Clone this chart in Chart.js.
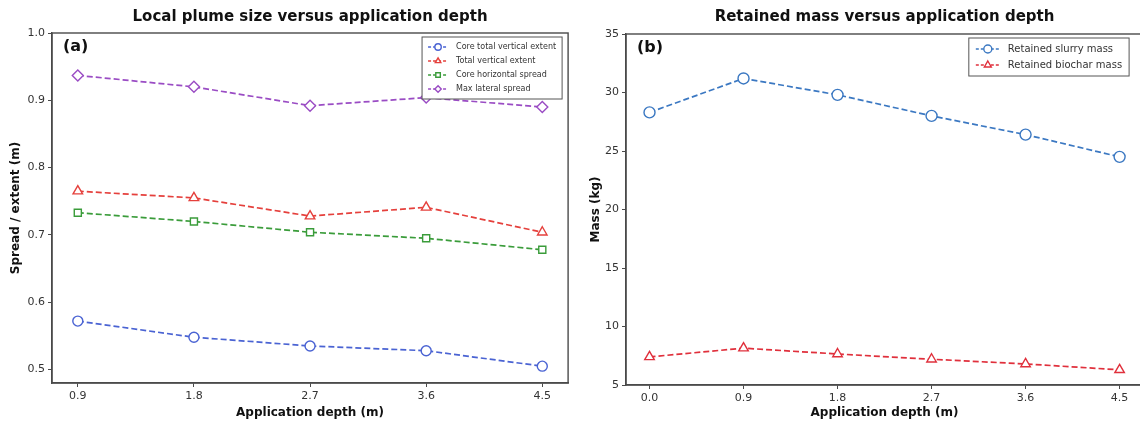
<!DOCTYPE html>
<html>
<head>
<meta charset="utf-8">
<script src="https://cdn.jsdelivr.net/npm/chart.js@4/dist/chart.umd.min.js"></script>
<style>
html,body{margin:0;padding:0;background:#fff;overflow:hidden;width:1140px;height:424px;}
#wrapA{position:absolute;left:0;top:0;width:575px;height:424px;}
#wrapB{position:absolute;left:575px;top:0;width:575px;height:424px;}
</style>
</head>
<body>
<div id="wrapA"><canvas id="cA" width="575" height="424"></canvas></div>
<div id="wrapB"><canvas id="cB" width="575" height="424"></canvas></div>
<script>
// ---- data ----
const depthA = [0.9, 1.8, 2.7, 3.6, 4.5];
const coreVertical = [0.572, 0.548, 0.535, 0.528, 0.505];
const totalVertical = [0.765, 0.755, 0.728, 0.741, 0.704];
const coreHorizontal = [0.733, 0.720, 0.704, 0.695, 0.678];
const maxLateral = [0.937, 0.920, 0.892, 0.904, 0.890];
const yTicksA = [0.5, 0.6, 0.7, 0.8, 0.9, 1.0];

const depthB = [0.0, 0.9, 1.8, 2.7, 3.6, 4.5];
const slurryMass = [28.3, 31.2, 29.8, 28.0, 26.4, 24.5];
const biocharMass = [7.4, 8.15, 7.65, 7.2, 6.8, 6.3];
const yTicksB = [5, 10, 15, 20, 25, 30, 35];

const FONT = "'DejaVu Sans', sans-serif";
const AXIS = '#4a4a4a';
const TXT = '#333';

function pts(xs, ys){ return xs.map((x,i)=>({x:x, y:ys[i]})); }
function ds(label, xs, ys, color, style, r){
  return {label, data: pts(xs, ys), borderColor: color, backgroundColor: '#fff',
    borderWidth: 1.7, borderDash: [6,3], pointStyle: style, pointRadius: r,
    pointBorderWidth: 1.4, pointBackgroundColor: '#fff', pointBorderColor: color,
    showLine: true, tension: 0, fill: false};
}

const framePlugin = {
  id: 'frame',
  afterDraw(chart, args, o){
    const {ctx, chartArea: a} = chart;
    ctx.save();
    ctx.strokeStyle = AXIS; ctx.lineWidth = 1.4;
    ctx.strokeRect(a.left, a.top, a.right - a.left, a.bottom - a.top);
    // title
    ctx.fillStyle = '#111';
    ctx.font = 'bold ' + o.titleSize + 'px ' + FONT;
    ctx.textAlign = 'center'; ctx.textBaseline = 'middle';
    ctx.fillText(o.title, (a.left + a.right)/2 + (o.titleDx||0), o.titleY);
    // panel label
    ctx.font = 'bold 16px ' + FONT;
    ctx.textAlign = 'left';
    ctx.fillText(o.panel, a.left + 11, a.top + 14);
    // legend
    const L = o.legend;
    ctx.font = L.size + 'px ' + FONT;
    let maxW = 0;
    chart.data.datasets.forEach(d => { maxW = Math.max(maxW, ctx.measureText(d.label).width); });
    const bw = L.pad + L.sample + L.gap + maxW + L.pad;
    const bh = L.rowH * chart.data.datasets.length + L.padY*2;
    const bx = a.right - L.inset - bw, by = a.top + L.top;
    ctx.fillStyle = '#fff';
    ctx.fillRect(bx, by, bw, bh);
    ctx.strokeStyle = '#555'; ctx.lineWidth = 1;
    ctx.strokeRect(bx, by, bw, bh);
    chart.data.datasets.forEach((d, i) => {
      const cy = by + L.padY + L.rowH*i + L.rowH/2;
      const x0 = bx + L.pad, x1 = x0 + L.sample;
      ctx.strokeStyle = d.borderColor; ctx.lineWidth = 1.4;
      ctx.setLineDash([3,2]);
      ctx.beginPath(); ctx.moveTo(x0, cy); ctx.lineTo(x1, cy); ctx.stroke();
      ctx.setLineDash([]);
      ctx.fillStyle = '#fff';
      Chart.helpers.drawPoint(ctx, {pointStyle: d.pointStyle, rotation: 0, radius: L.r, borderWidth: 1.2}, (x0+x1)/2, cy);
      ctx.fillStyle = TXT;
      ctx.textAlign = 'left'; ctx.textBaseline = 'middle';
      ctx.fillText(d.label, x1 + L.gap, cy);
    });
    ctx.restore();
  }
};

function scales(cfg){
  return {
    x: {type: 'linear', min: cfg.xmin, max: cfg.xmax,
      afterBuildTicks: s => { s.ticks = cfg.xt.map(v => ({value: v})); },
      afterFit: s => { s.height = cfg.xh; },
      grid: {drawOnChartArea: false, drawTicks: true, tickLength: 4, color: AXIS, lineWidth: 1},
      border: {display: true, color: AXIS, width: 1.4},
      ticks: {color: TXT, font: {family: FONT, size: 11}, padding: 3, maxRotation: 0,
        callback: v => Number(v).toFixed(1)},
      title: {display: true, text: 'Application depth (m)', color: '#111',
        font: {family: FONT, size: 12, weight: 'bold'}, padding: {top: 2, bottom: 4}}
    },
    y: {type: 'linear', min: cfg.ymin, max: cfg.ymax,
      afterBuildTicks: s => { s.ticks = cfg.yt.map(v => ({value: v})); },
      afterFit: s => { s.width = cfg.yw; },
      grid: {drawOnChartArea: false, drawTicks: true, tickLength: 4, color: AXIS, lineWidth: 1},
      border: {display: true, color: AXIS, width: 1.4},
      ticks: {color: TXT, font: {family: FONT, size: 11}, padding: 3,
        callback: cfg.yfmt},
      title: {display: true, text: cfg.ytitle, color: '#111',
        font: {family: FONT, size: 12, weight: 'bold'}, padding: {top: cfg.ytp, bottom: 0}}
    }
  };
}

new Chart(document.getElementById('cA'), {
  type: 'scatter',
  data: {datasets: [
    ds('Core total vertical extent', depthA, coreVertical, '#4a63d3', 'circle', 5),
    ds('Total vertical extent', depthA, totalVertical, '#e5403c', 'triangle', 5.5),
    ds('Core horizontal spread', depthA, coreHorizontal, '#3a9c3a', 'rect', 5),
    ds('Max lateral spread', depthA, maxLateral, '#9a4cc4', 'rectRot', 5.5)
  ]},
  options: {
    responsive: false, animation: false, devicePixelRatio: 1,
    layout: {padding: {top: 33, left: 0, right: 3, bottom: 0}},
    plugins: {legend: {display: false}, title: {display: false}, tooltip: {enabled: false},
      frame: {title: 'Local plume size versus application depth', titleSize: 15, titleY: 17, panel: '(a)',
        legend: {size: 8, rowH: 14, padY: 3, pad: 6, sample: 20, gap: 8, inset: 6, top: 4, r: 3.2}}},
    scales: scales({xmin: 0.7, xmax: 4.7, xt: depthA, xh: 41, ymin: 0.48, ymax: 1.0, yt: yTicksA, yw: 52,
      ytitle: 'Spread / extent (m)', ytp: 9, yfmt: v => Number(v).toFixed(1)})
  },
  plugins: [framePlugin]
});

new Chart(document.getElementById('cB'), {
  type: 'scatter',
  data: {datasets: [
    ds('Retained slurry mass', depthB, slurryMass, '#3b78c2', 'circle', 5.5),
    ds('Retained biochar mass', depthB, biocharMass, '#e0303c', 'triangle', 5.5)
  ]},
  options: {
    responsive: false, animation: false, devicePixelRatio: 1,
    layout: {padding: {top: 34, left: 0, right: 6, bottom: 0}},
    plugins: {legend: {display: false}, title: {display: false}, tooltip: {enabled: false},
      frame: {title: 'Retained mass versus application depth', titleSize: 15, titleY: 17, panel: '(b)',
        legend: {size: 10, rowH: 16, padY: 3, pad: 7, sample: 24, gap: 8, inset: 14, top: 4, r: 4}}},
    scales: scales({xmin: -0.225, xmax: 4.725, xt: depthB, xh: 39, ymin: 5, ymax: 35, yt: yTicksB, yw: 51,
      ytitle: 'Mass (kg)', ytp: 14, yfmt: v => String(v)})
  },
  plugins: [framePlugin]
});
</script>
</body>
</html>
